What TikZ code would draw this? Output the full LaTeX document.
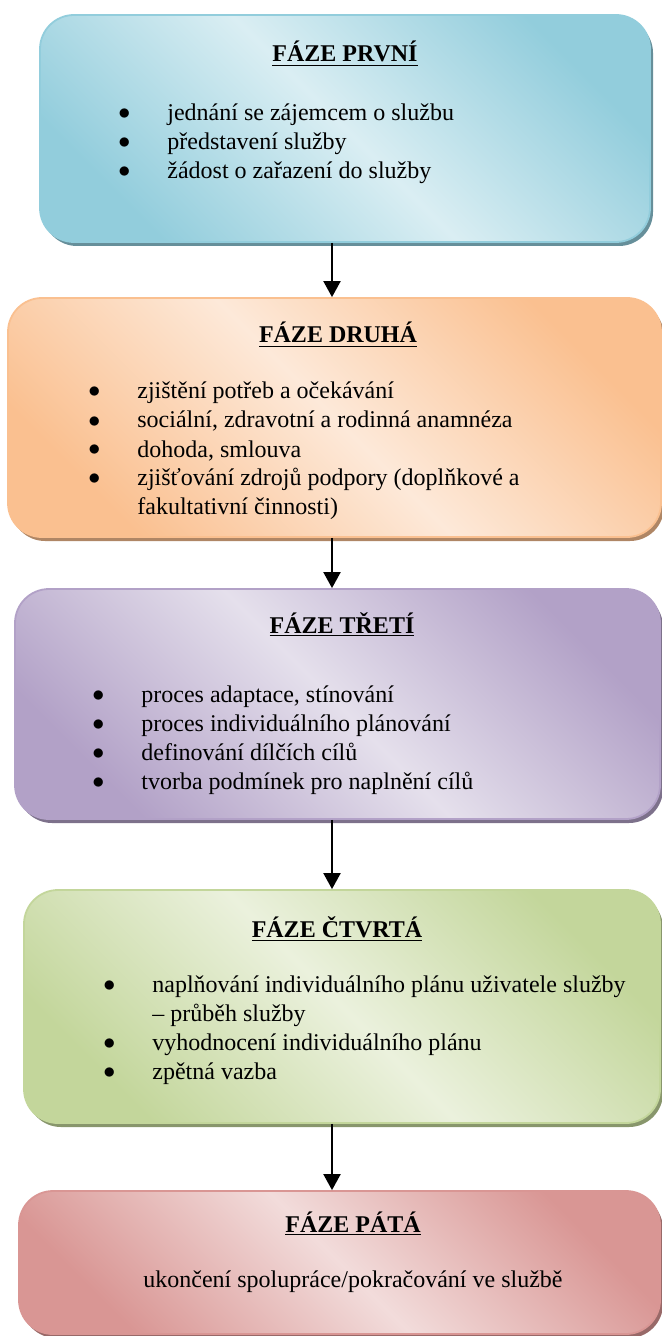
\documentclass[tikz,border=0pt]{standalone}
\usepackage{fontspec}
\setmainfont{Liberation Serif}
\usetikzlibrary{arrows.meta,fit,shadows}
\definecolor{BlueDark}{HTML}{92CDDC}
\definecolor{BlueLight}{HTML}{DAEEF3}
\definecolor{OrangeDark}{HTML}{FAC090}
\definecolor{OrangeLight}{HTML}{FDE9D9}
\definecolor{VioletDark}{HTML}{B2A1C7}
\definecolor{VioletLight}{HTML}{E5E0EC}
\definecolor{GreenDark}{HTML}{C3D69B}
\definecolor{GreenLight}{HTML}{EBF1DD}
\definecolor{RedDark}{HTML}{D99694}
\definecolor{RedLight}{HTML}{F2DCDB}
\newcommand{\bul}{\raisebox{0.5pt}{$\bullet$}}

\begin{document}
\begin{tikzpicture}[x=0.5pt,y=-0.5pt,
  phase/.style 2 args={rounded corners=17pt,draw=#1,line width=0.9pt,
    left color=#1,right color=#1,middle color=#2,shading angle=135,
    general shadow={fill=#1!70!black,shadow xshift=1.5pt,shadow yshift=-2pt},
    inner sep=0pt},
  title/.style={anchor=base,font=\fontsize{12}{14.5}\selectfont\bfseries},
  items/.style={anchor=base west,inner sep=0pt,font=\fontsize{12}{14.5}\selectfont},
  arr/.style={line width=1pt,-{Triangle[width=8.5pt,length=8pt]}}]
\useasboundingbox (0,0) rectangle (661,1336);

% boxes
\node[phase={BlueDark}{BlueLight},fit={(40,15) (650,242)}] (b1) {};
\node[phase={OrangeDark}{OrangeLight},fit={(8,298) (661,537)}] (b2) {};
\node[phase={VioletDark}{VioletLight},fit={(15,589) (660,819)}] (b3) {};
\node[phase={GreenDark}{GreenLight},fit={(24,890) (660,1123)}] (b4) {};
\node[phase={RedDark}{RedLight},fit={(19,1191) (660,1334)}] (b5) {};

% titles
\node[title] (t1) at (345,62) {\underline{FÁZE PRVNÍ}};
\node[title] (t2) at (338,343) {\underline{FÁZE DRUHÁ}};
\node[title] (t3) at (342,633) {\underline{FÁZE TŘETÍ}};
\node[title] (t4) at (337,937) {\underline{FÁZE ČTVRTÁ}};
\node[title] (t5) at (353,1232) {\underline{FÁZE PÁTÁ}};

% lists
\node[items] (l1) at (118,121) {\begin{tabular}[t]{@{}p{24.5pt}@{}l@{}}
\bul & jednání se zájemcem o službu\\
\bul & představení služby\\
\bul & žádost o zařazení do služby
\end{tabular}};
\node[items] (l2) at (88,399) {\begin{tabular}[t]{@{}p{24.5pt}@{}l@{}}
\bul & zjištění potřeb a očekávání\\
\bul & sociální, zdravotní a rodinná anamnéza\\
\bul & dohoda, smlouva\\
\bul & zjišťování zdrojů podpory (doplňkové a\\
     & fakultativní činnosti)
\end{tabular}};
\node[items] (l3) at (92,702) {\begin{tabular}[t]{@{}p{24.5pt}@{}l@{}}
\bul & proces adaptace, stínování\\
\bul & proces individuálního plánování\\
\bul & definování dílčích cílů\\
\bul & tvorba podmínek pro naplnění cílů
\end{tabular}};
\node[items] (l4) at (103,992) {\begin{tabular}[t]{@{}p{24.5pt}@{}l@{}}
\bul & naplňování individuálního plánu uživatele služby\\
     & – průběh služby\\
\bul & vyhodnocení individuálního plánu\\
\bul & zpětná vazba
\end{tabular}};
\node[items,anchor=base] (l5) at (353,1287) {ukončení spolupráce/pokračování ve službě};

% arrows
\coordinate (ax) at (332,0);
\foreach \a/\b in {b1/b2,b2/b3,b3/b4,b4/b5}
  \draw[arr] (\a.south -| ax) -- (\b.north -| ax);
\end{tikzpicture}
\end{document}
